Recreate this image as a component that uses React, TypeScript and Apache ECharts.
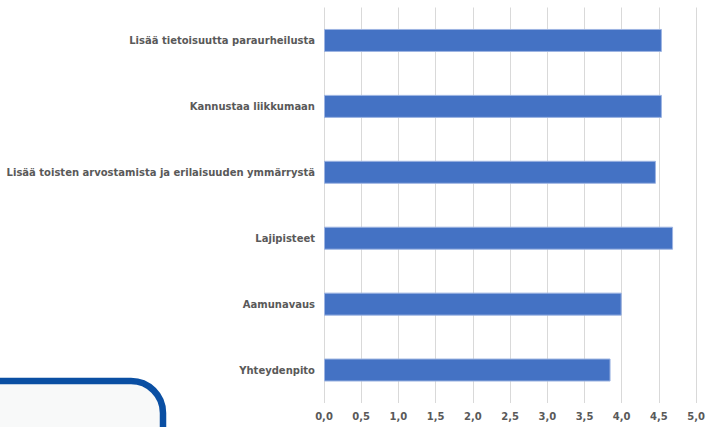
import React, { useEffect, useRef } from "react";
import * as echarts from "echarts";

const categories = [
  "Lisää tietoisuutta paraurheilusta",
  "Kannustaa liikkumaan",
  "Lisää toisten arvostamista ja erilaisuuden ymmärrystä",
  "Lajipisteet",
  "Aamunavaus",
  "Yhteydenpito",
];
const values = [4.54, 4.54, 4.46, 4.69, 4.0, 3.85];
const axisMin = 0;
const axisMax = 5;
const axisStep = 0.5;

export default function App() {
  const ref = useRef<HTMLDivElement>(null);
  useEffect(() => {
    if (!ref.current) return;
    const chart = echarts.init(ref.current, null, { renderer: "svg" });
    chart.setOption({
      animation: false,
      backgroundColor: "#ffffff",
      grid: { left: 324, right: 8, top: 7.5, bottom: 24, containLabel: false },
      xAxis: {
        type: "value",
        min: axisMin,
        max: axisMax,
        interval: axisStep,
        axisLine: { show: false },
        axisTick: { show: false },
        splitLine: { show: true, lineStyle: { color: "#D9D9D9", width: 1 } },
        axisLabel: {
          margin: 8,
          color: "#595959",
          fontFamily: "DejaVu Sans",
          fontWeight: "bold",
          fontSize: 10,
          formatter: (v: number) => v.toFixed(1).replace(".", ","),
        },
      },
      yAxis: {
        type: "category",
        data: categories,
        inverse: true,
        axisLine: { show: false },
        axisTick: { show: false },
        splitLine: { show: false },
        axisLabel: {
          margin: 9,
          color: "#595959",
          fontFamily: "DejaVu Sans",
          fontWeight: "bold",
          fontSize: 10,
        },
      },
      series: [
        {
          type: "bar",
          data: values,
          barWidth: 23,
          itemStyle: { color: "#4472C4", borderColor: "#9DB4E2", borderWidth: 1 },
        },
      ],
      graphic: [
        {
          type: "rect",
          shape: { x: -60, y: 381, width: 223, height: 80, r: 32 },
          style: { fill: "#F8F9F9", stroke: "#0A4FA3", lineWidth: 6.5 },
          z: 10,
        },
      ],
    });
    return () => chart.dispose();
  }, []);
  return (
    <div
      ref={ref}
      style={{ position: "absolute", left: 0, top: 0, width: 708, height: 427 }}
    />
  );
}
